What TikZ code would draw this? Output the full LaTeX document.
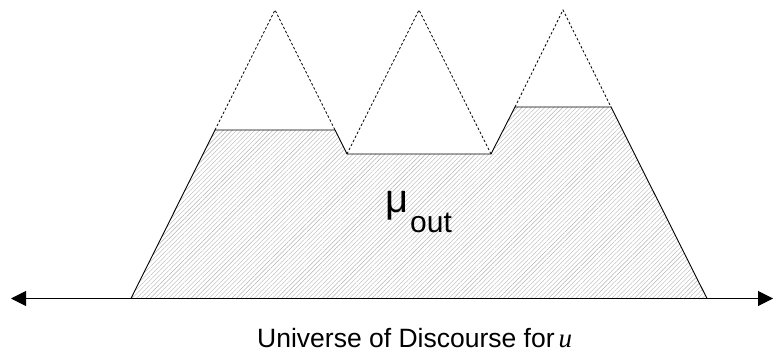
\documentclass[tikz,border=0pt]{standalone}
\usepackage{fontspec}
\setmainfont{Liberation Sans}
\newfontfamily\uvar{Liberation Serif}
\usetikzlibrary{arrows.meta,patterns.meta}
\tikzset{
  outline/.style={line width=0.9pt, line join=miter},
  guide/.style={line width=0.8pt, dash pattern=on 2.5pt off 2pt},
  hatch/.style={pattern={Lines[angle=45,distance=3.2pt,line width=0.4pt]}, pattern color=black!30},
  axis/.style={line width=1pt, {Triangle[length=15pt,width=15pt]}-{Triangle[length=15pt,width=15pt]}}
}
\begin{document}
\begin{tikzpicture}[x=1pt,y=-1pt]
\useasboundingbox (0,0) rectangle (775,358);
% shape corners
\coordinate (b1) at (131,298.5);
\coordinate (p1l) at (215,130);
\coordinate (p1r) at (335,130);
\coordinate (p2l) at (347,154);
\coordinate (p2r) at (491,154);
\coordinate (p3l) at (515,107);
\coordinate (p3r) at (611,107);
\coordinate (b2) at (707,298.5);
\coordinate (a1) at (275,10);
\coordinate (a2) at (419,10);
\coordinate (a3) at (563,10);
\coordinate (axl) at (11,298.5);
\coordinate (axr) at (773,298.5);
% hatched area
\fill[hatch] (b1) -- (p1l) -- (p1r) -- (p2l) -- (p2r) -- (p3l) -- (p3r) -- (b2) -- cycle;
\draw[outline] (b1) -- (p1l) -- (p1r) -- (p2l) -- (p2r) -- (p3l) -- (p3r) -- (b2);
% dashed triangle tops
\draw[guide] (p1l) -- (a1) -- (p1r);
\draw[guide] (p2l) -- (a2) -- (p2r);
\draw[guide] (p3l) -- (a3) -- (p3r);
% axis
\draw[axis] (axl) -- (axr);
% labels
\node[anchor=base west, inner sep=0pt, font=\fontsize{40}{40}\selectfont] (mu) at (385,212) {μ};
\node[anchor=base west, inner sep=0pt, font=\fontsize{30}{30}\selectfont] (out) at (410,232) {out};
\node[anchor=base west, inner sep=0pt, font=\fontsize{26.5}{26.5}\selectfont] (uod) at (257,347) {Universe of Discourse for\kern4pt{\uvar\itshape\fontsize{27}{27}\selectfont u}};
\end{tikzpicture}
\end{document}
